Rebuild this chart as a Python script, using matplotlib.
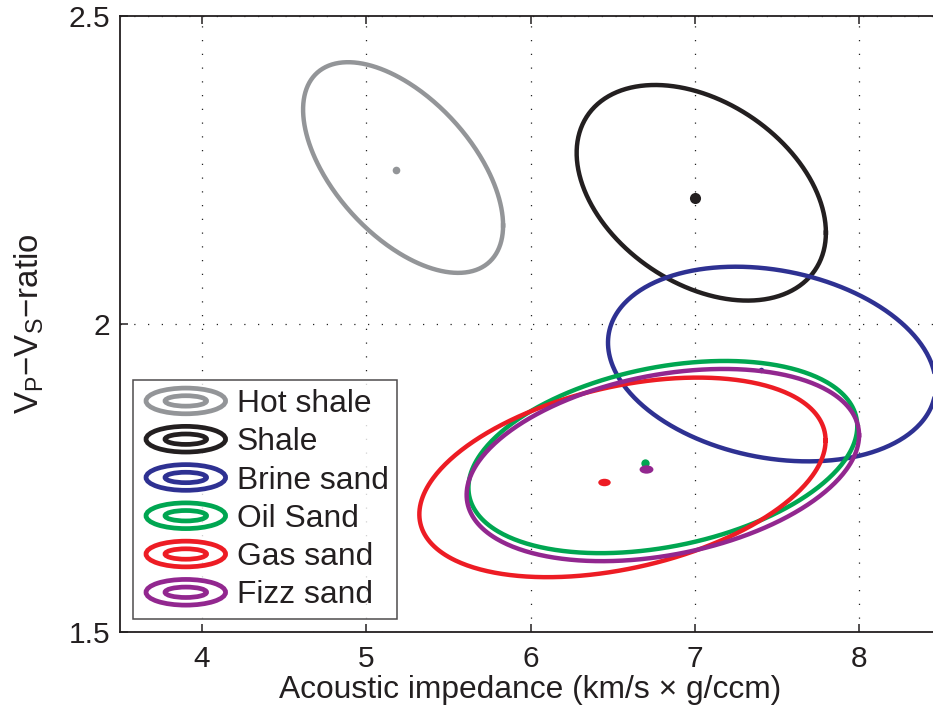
import numpy as np
import matplotlib
matplotlib.use("Agg")
import matplotlib.pyplot as plt
from matplotlib.patches import Ellipse
from matplotlib.legend_handler import HandlerBase
from matplotlib.path import Path
from matplotlib.transforms import Affine2D

plt.rcParams['font.family'] = ['Liberation Sans', 'DejaVu Sans']
plt.rcParams['mathtext.fontset'] = 'custom'
plt.rcParams['mathtext.rm'] = 'Liberation Sans'

# Facies clusters: covariance ellipse (centre, half-extent, correlation) and mean
facies = ['Hot shale', 'Shale', 'Brine sand', 'Oil Sand', 'Gas sand', 'Fizz sand']
colors = ['#939598', '#231f20', '#2e3192', '#00a651', '#ed1c24', '#92278f']
center_ai = [5.224, 7.040, 7.470, 6.806, 6.560, 6.806]
center_vpvs = [2.254, 2.213, 1.935, 1.784, 1.751, 1.771]
half_ai = [0.609, 0.759, 0.998, 1.184, 1.237, 1.195]
half_vpvs = [0.171, 0.175, 0.158, 0.156, 0.162, 0.156]
corr = [-0.55, -0.37, -0.22, 0.32, 0.37, 0.31]
mean_ai = [5.181, 7.002, 7.403, 6.697, 6.449, 6.703]
mean_vpvs = [2.250, 2.205, 1.925, 1.775, 1.744, 1.764]

x_ticks = [4, 5, 6, 7, 8]
y_ticks = [1.5, 2, 2.5]
y_ticklabels = ['1.5', '2', '2.5']

# marker shapes/sizes for the means
oval = Path.unit_circle().transformed(Affine2D().scale(1.0, 0.6))
mean_markers = ['o', 'o', 'o', 'o', oval, oval]
mean_sizes = [5.5, 8, 4, 6, 9, 10]


class HandlerRings(HandlerBase):
    """Legend key drawn as two concentric ellipses."""
    def create_artists(self, legend, orig_handle, xdescent, ydescent,
                       width, height, fontsize, trans):
        cx = -xdescent + width / 2.0
        cy = -ydescent + height / 2.0
        col = orig_handle.get_color()
        outer = Ellipse((cx, cy), width * 0.90, 18.5, fill=False,
                        edgecolor=col, lw=3.4, transform=trans)
        inner = Ellipse((cx, cy), width * 0.47, 7.5, fill=False,
                        edgecolor=col, lw=3.4, transform=trans)
        return [outer, inner]


fig = plt.figure(figsize=(9.33, 7.17), dpi=100)
ax = fig.add_axes([120 / 933, 85 / 717, 821 / 933, 616 / 717])

t = np.linspace(0, 2 * np.pi, 400)
handles = []
for i, name in enumerate(facies):
    r = corr[i]
    ex = center_ai[i] + half_ai[i] * np.cos(t)
    ey = center_vpvs[i] + half_vpvs[i] * (r * np.cos(t) + np.sqrt(1 - r ** 2) * np.sin(t))
    ln, = ax.plot(ex, ey, color=colors[i], lw=3.2, label=name, zorder=3)
    ax.plot(mean_ai[i], mean_vpvs[i], linestyle='none', marker=mean_markers[i],
            ms=mean_sizes[i], color=colors[i], mec='none', zorder=3)
    handles.append(ln)

ax.set_xlim(3.5, 8.5)
ax.set_ylim(1.5, 2.5)
ax.set_xticks(x_ticks)
ax.set_yticks(y_ticks)
ax.set_yticklabels(y_ticklabels)
ax.grid(True, color='#222222', linestyle=(0, (1, 10)), lw=0.9)
ax.set_axisbelow(True)
ax.tick_params(direction='in', length=6, width=1.1, top=True, right=True,
               labelsize=21.5, colors='#231f20')
ax.tick_params(axis='x', pad=9.5)
ax.tick_params(axis='y', pad=7)
for s in ax.spines.values():
    s.set_linewidth(1.3)
    s.set_color('#231f20')

ax.set_xlabel('Acoustic impedance (km/s \u00d7 g/ccm)', fontsize=22.9, labelpad=1,
              color='#231f20')
ax.set_ylabel('V$_\\mathregular{P}$\u2212V$_\\mathregular{S}$\u2212ratio',
              fontsize=23.8, labelpad=16, color='#231f20')

leg = ax.legend(handles=handles, labels=facies,
                handler_map={h: HandlerRings() for h in handles},
                loc='lower left', bbox_to_anchor=(133 / 933, 98 / 717),
                bbox_transform=fig.transFigure, borderaxespad=0,
                fontsize=22.9, handlelength=2.78, handletextpad=0.22,
                labelspacing=0.26, borderpad=0.27, frameon=True, fancybox=False)
leg.get_frame().set_edgecolor('#231f20')
leg.get_frame().set_linewidth(1.1)
for txt in leg.get_texts():
    txt.set_color('#231f20')

fig.savefig('out.png', dpi=100)
